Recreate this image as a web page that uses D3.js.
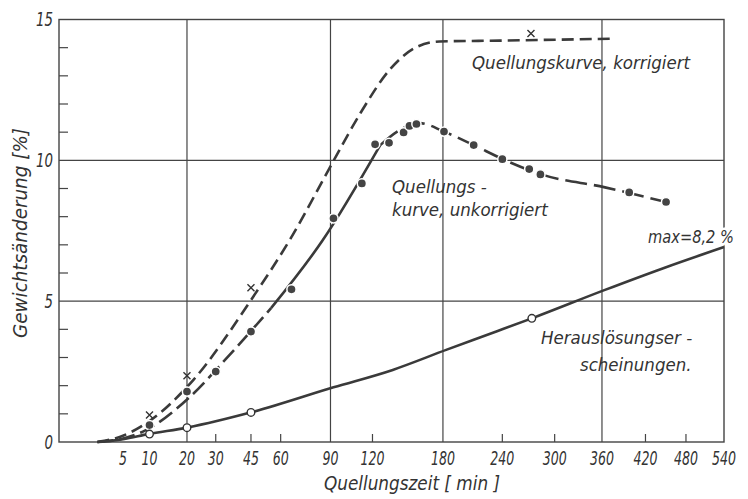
<!DOCTYPE html>
<html>
<head>
<meta charset="utf-8">
<script src="https://cdn.jsdelivr.net/npm/d3@7"></script>
<style>
body{margin:0;background:#fff}
</style>
</head>
<body>
<div id="chart"></div>
<script>
(function(){
	var width = 748,
	height = 499;

	// axis values
	var xTickLabels = [5,10,20,30,45,60,90,120,180,240,300,360,420,480,540];
	var xTickMarks = [30,45,60,120,240,300,420,480];
	var xGrid = [20,90,180,360];
	var yTickLabels = [0,5,10,15];
	var yTickMarks = [1,2,3,4,6,7,8,9,11,12,13,14];
	var yGrid = [5,10];

	// Quellungskurve, korrigiert (x markers + dashed curve)
	var korrPoints = [[10,0.96],[20,2.35],[45,5.48],[272,14.5]];
	var korrCurve = [[1.8,0],[4.5,0.18],[9.7,0.71],[22,2.2],[45,5.04],[65,7.17],[92,9.98],[111,11.68],[134,13.24],[156,14.02],[177,14.22],[237,14.25],[375,14.32]];

	// Quellungskurve, unkorrigiert (filled dots + curve in three parts)
	var unkorrPoints = [[10,0.6],[20,1.79],[30,2.5],[45,3.92],[66,5.42],[92,7.94],[112,9.18],[122,10.57],[133,10.62],[145,10.99],[150,11.22],[156,11.29],[181,11.02],[210,10.54],[240,10.04],[270,9.69],[283,9.5],[397,8.86],[450,8.52]];
	var unkorrLow = [[1.8,0],[5.3,0.14],[8.6,0.37],[21,1.61],[33,2.85],[55,4.76]];
	var unkorrMid = [[55,4.76],[85,7.17],[126,10.54]];
	var unkorrHigh = [[126,10.54],[142,11.08],[159,11.32],[181,11.02],[210,10.54],[240,10.05],[283,9.51],[364,9.04],[450,8.52]];

	// Herauslösungserscheinungen (open circles + solid curve)
	var herausPoints = [[10,0.28],[20,0.51],[45,1.05],[273,4.39]];
	var herausCurve = [[1.8,0],[5,0.1],[9.7,0.28],[20,0.51],[46,1.07],[92,1.94],[136,2.56],[183,3.27],[235,3.94],[273,4.39],[364,5.4],[447,6.18],[540,6.92]];

	var font = '"Liberation Sans Narrow","DejaVu Sans Condensed",sans-serif';
	var ink = "#333";

	var svg = d3.select("#chart")
	.append("svg")
	.attr("width",width)
	.attr("height",height)
	.style("font-family",font)
	.style("font-style","italic")

	var x = d3.scaleSqrt().domain([0,540]).range([59,724]);
	var y = d3.scaleLinear().domain([0,15]).range([442,19.5]);

	// grid
	svg.selectAll(".vgrid")
	.data(xGrid)
	.enter().append("line")
	.attr("x1",function(d){return x(d)})
	.attr("x2",function(d){return x(d)})
	.attr("y1",y(0))
	.attr("y2",y(15))
	.attr("stroke","#444")
	.attr("stroke-width",1.2)

	svg.selectAll(".hgrid")
	.data(yGrid)
	.enter().append("line")
	.attr("x1",x(0))
	.attr("x2",x(540))
	.attr("y1",function(d){return y(d)})
	.attr("y2",function(d){return y(d)})
	.attr("stroke","#444")
	.attr("stroke-width",1.2)

	// frame
	svg.append("rect")
	.attr("x",x(0))
	.attr("y",y(15))
	.attr("width",x(540)-x(0))
	.attr("height",y(0)-y(15))
	.attr("fill","none")
	.attr("stroke","#444")
	.attr("stroke-width",1.4)

	// inner tick marks
	svg.selectAll(".xtick")
	.data(xTickMarks)
	.enter().append("line")
	.attr("x1",function(d){return x(d)})
	.attr("x2",function(d){return x(d)})
	.attr("y1",y(0))
	.attr("y2",y(0)-8)
	.attr("stroke","#444")
	.attr("stroke-width",1.2)

	svg.selectAll(".ytick")
	.data(yTickMarks)
	.enter().append("line")
	.attr("x1",x(0))
	.attr("x2",x(0)+9)
	.attr("y1",function(d){return y(d)})
	.attr("y2",function(d){return y(d)})
	.attr("stroke","#444")
	.attr("stroke-width",1.2)

	// tick labels, squeezed to the narrow lettering of the original
	svg.selectAll(".xlbl")
	.data(xTickLabels)
	.enter().append("text")
	.attr("x",function(d){return x(d)})
	.attr("y",465)
	.attr("text-anchor","middle")
	.attr("font-size",19)
	.attr("textLength",function(d){return String(d).length*8})
	.attr("lengthAdjust","spacingAndGlyphs")
	.attr("fill",ink)
	.text(function(d){return d})

	svg.selectAll(".ylbl")
	.data(yTickLabels)
	.enter().append("text")
	.attr("x",53)
	.attr("y",function(d){return y(d)})
	.attr("dy","0.35em")
	.attr("text-anchor","end")
	.attr("font-size",19)
	.attr("textLength",function(d){return String(d).length*8.5})
	.attr("lengthAdjust","spacingAndGlyphs")
	.attr("fill",ink)
	.text(function(d){return d})

	// curves
	var line = d3.line()
		.x(function(d){return x(d[0])})
		.y(function(d){return y(d[1])})
		.curve(d3.curveMonotoneX)

	function drawCurve(data,dash){
		svg.append("path")
		.datum(data)
		.attr("d",line)
		.attr("fill","none")
		.attr("stroke","#3a3a3a")
		.attr("stroke-width",2.6)
		.attr("stroke-dasharray",dash)
	}

	drawCurve(herausCurve,null)
	drawCurve(korrCurve,"12,6")
	drawCurve(unkorrLow,"16,6")
	drawCurve(unkorrMid,null)
	drawCurve(unkorrHigh,"22,7")

	// markers
	svg.selectAll(".dot")
	.data(unkorrPoints)
	.enter().append("circle")
	.attr("cx",function(d){return x(d[0])})
	.attr("cy",function(d){return y(d[1])})
	.attr("r",4.6)
	.attr("fill","#444")
	.attr("stroke","#fff")
	.attr("stroke-width",1.5)

	svg.selectAll(".open")
	.data(herausPoints)
	.enter().append("circle")
	.attr("cx",function(d){return x(d[0])})
	.attr("cy",function(d){return y(d[1])})
	.attr("r",3.8)
	.attr("fill","#fff")
	.attr("stroke","#333")
	.attr("stroke-width",1.4)

	svg.selectAll(".cross")
	.data(korrPoints)
	.enter().append("path")
	.attr("d",function(d){
		var cx = x(d[0]), cy = y(d[1]), s = 3.5;
		return "M"+(cx-s)+","+(cy-s)+"L"+(cx+s)+","+(cy+s)+"M"+(cx-s)+","+(cy+s)+"L"+(cx+s)+","+(cy-s);
	})
	.attr("stroke","#333")
	.attr("stroke-width",1.4)

	// annotations: text, left x, baseline y
	var notes = [
		["Quellungskurve, korrigiert",472,69],
		["Quellungs -",392,193],
		["kurve, unkorrigiert",392,216],
		["Herauslösungser -",541,344],
		["scheinungen.",580,371]
	];
	svg.selectAll(".note")
	.data(notes)
	.enter().append("text")
	.attr("x",function(d){return d[1]})
	.attr("y",function(d){return d[2]})
	.attr("font-size",18.5)
	.attr("fill",ink)
	.text(function(d){return d[0]})

	// max label breaks the right frame line, like in the drawing
	svg.append("text")
	.attr("x",648)
	.attr("y",243)
	.attr("font-size",18.5)
	.attr("textLength",86)
	.attr("lengthAdjust","spacingAndGlyphs")
	.attr("fill",ink)
	.attr("stroke","#fff")
	.attr("stroke-width",5)
	.attr("paint-order","stroke")
	.text("max=8,2 %")

	// axis titles
	svg.append("text")
	.attr("transform","translate(27,233) rotate(-90)")
	.attr("text-anchor","middle")
	.attr("font-size",19)
	.attr("textLength",210)
	.attr("lengthAdjust","spacingAndGlyphs")
	.attr("fill",ink)
	.text("Gewichtsänderung [%]")

	svg.append("text")
	.attr("x",412)
	.attr("y",490)
	.attr("text-anchor","middle")
	.attr("font-size",19)
	.attr("textLength",176)
	.attr("lengthAdjust","spacingAndGlyphs")
	.attr("fill",ink)
	.text("Quellungszeit [ min ]")

})();
</script>
</body>
</html>
